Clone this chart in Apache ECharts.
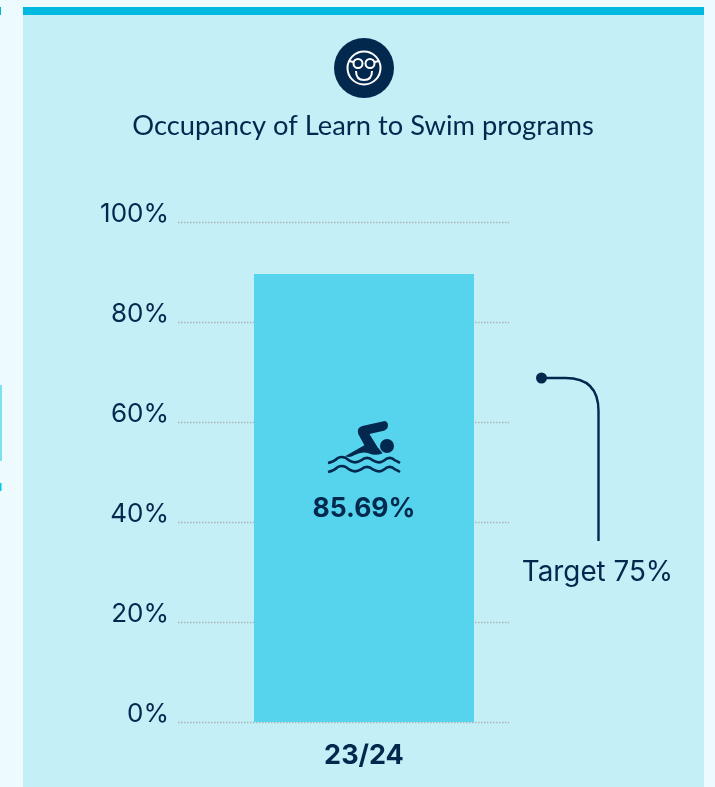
<!DOCTYPE html>
<html><head><meta charset="utf-8">
<style>html,body{margin:0;padding:0;background:#eefbfe}#c{width:715px;height:787px}</style>
<script src="https://cdn.jsdelivr.net/npm/echarts@6/dist/echarts.min.js"></script>
</head><body><div id="c"></div>
<script>
const categories = ['23/24'];
const barValues = [89.6];
const barLabels = ['85.69%'];
const spacerValues = [0];
const targetMarker = [68.8];
const targetLabel = 'Target 75%';
const tickStep = 20;
const titleText = 'Occupancy of Learn to Swim programs';
const navy = '#03284d', font = 'Inter';

function pathEl(d,x,y,w,h,style){
  return {type:'path',shape:{pathData:d,x:x,y:y,width:w,height:h,layout:'cover'},style:style};
}
const chart = echarts.init(document.getElementById('c'), null, {renderer:'canvas'});
chart.setOption({
  animation:false,
  backgroundColor:'#eefbfe',
  title:{text:titleText,left:358,top:108,textAlign:'center',
    textStyle:{fontFamily:'Lato',fontSize:27.3,fontWeight:400,color:navy}},
  grid:{left:178,top:222,width:331,height:500,containLabel:false},
  xAxis:{type:'category',data:categories,axisLine:{show:false},axisTick:{show:false},
    axisLabel:{fontFamily:font,fontSize:27,fontWeight:700,color:navy,margin:20,padding:[0,0,0,41]}},
  yAxis:{type:'value',min:0,max:100,interval:tickStep,
    axisLine:{show:false},axisTick:{show:false},
    axisLabel:{formatter:'{value}%',fontFamily:font,fontSize:26,color:navy,margin:9,verticalAlign:'bottom',lineHeight:16},
    splitLine:{show:true,lineStyle:{color:'#a9b3b8',type:[1.5,1.5],width:1.4}}},
  series:[
    {type:'bar',data:spacerValues,barWidth:41,barGap:0,silent:true,itemStyle:{color:'transparent'}},
    {type:'bar',data:barValues,barWidth:220,barGap:0,itemStyle:{color:'#57d4ed'},z:2,
     label:{show:true,position:'insideBottom',distance:199,formatter:()=>barLabels[0],
       fontFamily:font,fontSize:26.5,fontWeight:700,color:navy}},
    {type:'custom',data:[[0,targetMarker[0]]],z:4,silent:true,clip:false,
     renderItem:(p,api)=>{
       const c=api.coord([api.value(0),api.value(1)]);
       const x=c[0]+198,y=c[1];
       return {type:'group',children:[
         {type:'circle',shape:{cx:x,cy:y,r:5.5},style:{fill:navy}},
         pathEl(`M${x} ${y}H${x+24}Q${x+57} ${y} ${x+57} ${y+33}V${y+163}`,x,y,57,163,{fill:'none',stroke:navy,lineWidth:2.4}),
         {type:'text',x:x+56,y:y+195,style:{text:targetLabel,fontFamily:font,fontSize:27.8,fill:navy,align:'center',verticalAlign:'middle'}},
         // swimmer icon
         {type:'circle',shape:{cx:387,cy:446,r:7},style:{fill:navy}},
         pathEl('M345 456L364 445L358 434Q356 428 362 426L384 421Q388 422 387 427Q386 430 382 431L369 434L377 447L382 453Q375 456 368 453Q362 451 354 455Q350 458 345 456Z',345,421,43,36,{fill:navy}),
         pathEl('M328 462Q334 461 338 458Q344 456 349 460Q355 463 361 460Q367 456 373 460Q379 463 384 460Q390 456 395 460Q398 461 400 462',328,457,72,6,{fill:'none',stroke:navy,lineWidth:2.6}),
         pathEl('M328 471Q334 470 338 467Q344 465 349 469Q355 472 361 469Q367 465 373 469Q379 472 384 469Q390 465 395 469Q398 470 400 471',328,466,72,6,{fill:'none',stroke:navy,lineWidth:2.6}),
         // smiley badge
         {type:'circle',shape:{cx:364,cy:68,r:30},style:{fill:navy}},
         {type:'circle',shape:{cx:364,cy:68,r:16.5},style:{fill:'none',stroke:'#fff',lineWidth:2}},
         {type:'circle',shape:{cx:358,cy:63.5,r:4.5},style:{fill:'none',stroke:'#fff',lineWidth:2}},
         {type:'circle',shape:{cx:370,cy:63.5,r:4.5},style:{fill:'none',stroke:'#fff',lineWidth:2}},
         pathEl('M356 71Q356 80 364 80Q372 80 372 71',356,71,16,9,{fill:'none',stroke:'#fff',lineWidth:2}),
         {type:'line',shape:{x1:349,y1:61,x2:353.5,y2:62},style:{stroke:'#fff',lineWidth:2}},
         {type:'line',shape:{x1:374.5,y1:62,x2:379,y2:61},style:{stroke:'#fff',lineWidth:2}}
       ]};
     }}
  ],
  graphic:[
    {type:'rect',z:-10,shape:{x:23,y:7,width:681,height:780},style:{fill:'#c4eff7'}},
    {type:'rect',z:-9,shape:{x:23,y:7,width:681,height:8},style:{fill:'#00b9e0'}},
    {type:'rect',z:-9,shape:{x:0,y:7,width:1,height:8},style:{fill:'#00b9e0'}},
    {type:'rect',z:-9,shape:{x:0,y:385,width:2,height:76},style:{fill:'#7fe0f2'}},
    {type:'rect',z:-9,shape:{x:0,y:483,width:1.5,height:8},style:{fill:'#00c8ea'}}
  ]
});
</script></body></html>
